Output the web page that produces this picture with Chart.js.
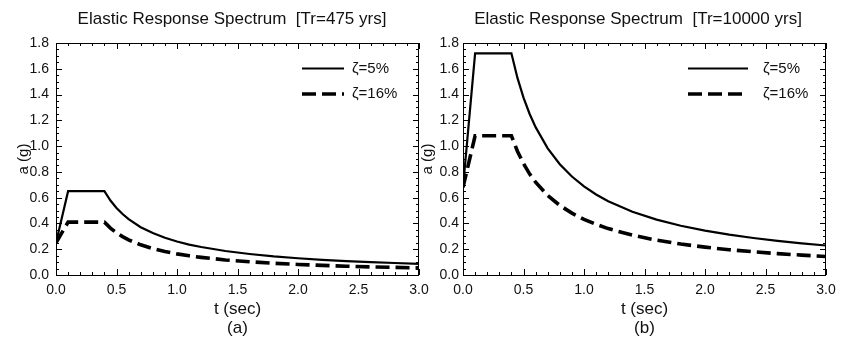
<!DOCTYPE html>
<html>
<head>
<meta charset="utf-8">
<script src="https://cdn.jsdelivr.net/npm/chart.js@4"></script>
<style>
  html, body { margin: 0; padding: 0; background: #fff; overflow: hidden; width: 841px; height: 343px; }
  canvas { position: absolute; top: 0; }
  #left { left: 0; }
  #right { left: 420px; }
</style>
</head>
<body>
<canvas id="left" width="464" height="343"></canvas>
<canvas id="right" width="436" height="343"></canvas>
<script>
// periods (sec) and spectral accelerations (g)
const periods = [0, 0.1, 0.4, 0.45, 0.5, 0.55, 0.6, 0.7, 0.8, 0.9, 1.0, 1.1, 1.2, 1.4, 1.6, 1.8, 2.0, 2.2, 2.4, 2.6, 2.8, 3.0];

const tr475_z5  = [0.25, 0.65, 0.65, 0.578, 0.52, 0.473, 0.433, 0.371, 0.325, 0.289, 0.26, 0.236, 0.217, 0.186, 0.163, 0.144, 0.13, 0.118, 0.108, 0.10, 0.093, 0.087];
const tr475_z16 = [0.25, 0.41, 0.41, 0.364, 0.328, 0.298, 0.273, 0.234, 0.205, 0.182, 0.164, 0.149, 0.137, 0.117, 0.103, 0.091, 0.082, 0.075, 0.068, 0.063, 0.059, 0.055];

const tr10000_z5  = [0.68, 1.72, 1.72, 1.529, 1.376, 1.251, 1.147, 0.983, 0.86, 0.764, 0.688, 0.625, 0.573, 0.491, 0.43, 0.382, 0.344, 0.313, 0.287, 0.265, 0.246, 0.229];
const tr10000_z16 = [0.68, 1.08, 1.08, 0.96, 0.864, 0.785, 0.72, 0.617, 0.54, 0.48, 0.432, 0.393, 0.36, 0.309, 0.27, 0.24, 0.216, 0.196, 0.18, 0.166, 0.154, 0.144];

const seriesLabels = ['\u03B6=5%', '\u03B6=16%'];

const FONT = "'Liberation Sans', Arial, sans-serif";
Chart.defaults.font.family = FONT;
Chart.defaults.color = '#111';

// title, box, inward ticks on all four sides, and the in-plot legend
const framePlugin = {
  id: 'frame',
  afterDraw(chart, args, opts) {
    const { ctx, chartArea: a, scales: { x, y } } = chart;
    ctx.save();
    ctx.fillStyle = '#111';
    ctx.textAlign = 'center';
    ctx.textBaseline = 'middle';
    ctx.font = '17px ' + FONT;
    ctx.fillText(opts.title, opts.titleX, 19);

    ctx.strokeStyle = '#000';
    ctx.lineWidth = 1;
    ctx.strokeRect(a.left + 0.5, a.top + 0.5, a.right - a.left - 1, a.bottom - a.top);
    ctx.beginPath();
    for (let i = 0; i <= 30; i++) {
      const px = Math.round(x.getPixelForValue(i / 10)) + 0.5;
      const len = i % 5 === 0 ? 6 : 3;
      ctx.moveTo(px, a.bottom); ctx.lineTo(px, a.bottom - len);
      ctx.moveTo(px, a.top); ctx.lineTo(px, a.top + len);
    }
    for (let i = 0; i <= 36; i++) {
      const py = Math.round(y.getPixelForValue(i * 0.05)) + 0.5;
      const len = i % 4 === 0 ? 6 : 3;
      ctx.moveTo(a.left, py); ctx.lineTo(a.left + len, py);
      ctx.moveTo(a.right, py); ctx.lineTo(a.right - len, py);
    }
    ctx.stroke();

    // legend
    ctx.font = '15px ' + FONT;
    ctx.textAlign = 'left';
    chart.data.datasets.forEach((ds, i) => {
      const ly = a.top + opts.rows[i];
      ctx.beginPath();
      ctx.lineWidth = ds.borderWidth;
      ctx.setLineDash(ds.borderDash || []);
      ctx.moveTo(a.right + opts.x0, ly);
      ctx.lineTo(a.right + opts.x1, ly);
      ctx.stroke();
      ctx.fillText(ds.label, a.right + opts.tx, ly);
    });
    ctx.restore();
  }
};

function makeChart(id, s5, s16, cfg) {
  return new Chart(document.getElementById(id), {
    type: 'line',
    data: {
      datasets: [
        {
          label: seriesLabels[0],
          data: periods.map((t, i) => ({ x: t, y: s5[i] })),
          borderColor: '#000',
          borderWidth: 2.2,
          pointRadius: 0,
          tension: 0
        },
        {
          label: seriesLabels[1],
          data: periods.map((t, i) => ({ x: t, y: s16[i] })),
          borderColor: '#000',
          borderWidth: 3.6,
          borderDash: [14, 6],
          pointRadius: 0,
          tension: 0
        }
      ]
    },
    options: {
      responsive: false,
      animation: false,
      devicePixelRatio: 1,
      layout: { padding: { left: 0, right: cfg.padRight, top: 43, bottom: 0 } },
      plugins: {
        legend: { display: false },
        tooltip: { enabled: false },
        title: { display: false },
        frame: cfg.frame
      },
      scales: {
        x: {
          type: 'linear',
          min: 0,
          max: 3,
          grid: { display: false, drawTicks: false },
          border: { display: false },
          ticks: { stepSize: 0.5, padding: 7, font: { size: 14 }, callback: v => v.toFixed(1) },
          title: {
            display: true,
            text: ['t (sec)', cfg.tag],
            font: { size: 17, lineHeight: 1.1 },
            padding: { top: 0, bottom: 5.5 }
          },
          afterFit: s => { s.height = 68; }
        },
        y: {
          min: 0,
          max: 1.8,
          grid: { display: false, drawTicks: false },
          border: { display: false },
          ticks: { stepSize: 0.2, padding: cfg.yPad, font: { size: 14 }, callback: v => v.toFixed(1) },
          title: {
            display: true,
            text: 'a (g)',
            font: { size: 15, lineHeight: 1.0 },
            padding: { top: cfg.yTitlePad, bottom: 0 }
          },
          afterFit: s => { s.width = cfg.yWidth; }
        }
      }
    },
    plugins: [framePlugin]
  });
}

makeChart('left', tr475_z5, tr475_z16, {
  tag: '(a)',
  padRight: 45,
  yWidth: 56,
  yPad: 7,
  yTitlePad: 16,
  frame: {
    title: 'Elastic Response Spectrum  [Tr=475 yrs]',
    titleX: 232,
    x0: -117, x1: -75, tx: -67, rows: [25.5, 51]
  }
});

makeChart('right', tr10000_z5, tr10000_z16, {
  tag: '(b)',
  padRight: 30,
  yWidth: 43,
  yPad: 4,
  yTitlePad: 0,
  frame: {
    title: 'Elastic Response Spectrum  [Tr=10000 yrs]',
    titleX: 218,
    x0: -138, x1: -78, tx: -63, rows: [25.5, 51]
  }
});
</script>
</body>
</html>
